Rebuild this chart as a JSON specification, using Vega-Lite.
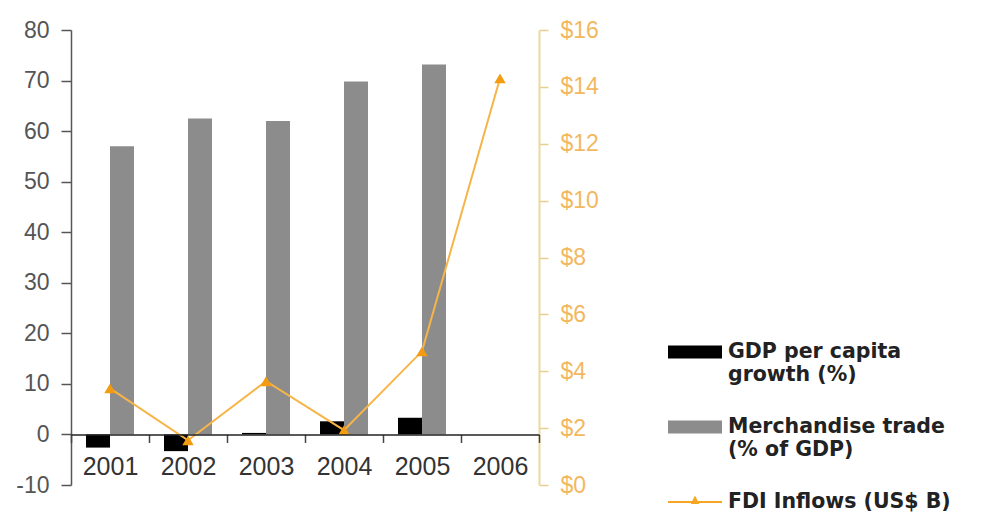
{
  "$schema": "https://vega.github.io/schema/vega-lite/v6.json",
  "width": 468,
  "height": 455,
  "autosize": {"type": "none"},
  "padding": {"left": 71, "top": 30, "right": 450, "bottom": 30},
  "background": "white",
  "view": {"stroke": null},
  "data": {
    "values": [
      {"year": "2001", "series": "GDP per capita growth (%)", "value": -2.6},
      {"year": "2002", "series": "GDP per capita growth (%)", "value": -3.3},
      {"year": "2003", "series": "GDP per capita growth (%)", "value": 0.3},
      {"year": "2004", "series": "GDP per capita growth (%)", "value": 2.6},
      {"year": "2005", "series": "GDP per capita growth (%)", "value": 3.3},
      {"year": "2001", "series": "Merchandise trade (% of GDP)", "value": 57},
      {"year": "2002", "series": "Merchandise trade (% of GDP)", "value": 62.5},
      {"year": "2003", "series": "Merchandise trade (% of GDP)", "value": 62},
      {"year": "2004", "series": "Merchandise trade (% of GDP)", "value": 69.8},
      {"year": "2005", "series": "Merchandise trade (% of GDP)", "value": 73.2},
      {"year": "2001", "series": "FDI Inflows (US$ B)", "value": 3.4},
      {"year": "2002", "series": "FDI Inflows (US$ B)", "value": 1.57},
      {"year": "2003", "series": "FDI Inflows (US$ B)", "value": 3.65},
      {"year": "2004", "series": "FDI Inflows (US$ B)", "value": 1.93},
      {"year": "2005", "series": "FDI Inflows (US$ B)", "value": 4.7},
      {"year": "2006", "series": "FDI Inflows (US$ B)", "value": 14.3}
    ]
  },
  "encoding": {
    "x": {
      "field": "year",
      "type": "ordinal",
      "scale": {"paddingInner": 0, "paddingOuter": 0},
      "axis": {
        "title": null,
        "orient": "bottom",
        "offset": -50.56,
        "domainColor": "#222",
        "domainWidth": 1.5,
        "tickColor": "#444",
        "tickWidth": 1.5,
        "tickSize": 8,
        "tickBand": "extent",
        "labelAngle": 0,
        "labelFont": "Liberation Sans",
        "labelFontSize": 25,
        "labelColor": "#333",
        "labelPadding": 12,
        "zindex": 1
      }
    }
  },
  "layer": [
    {
      "transform": [{"filter": "datum.series !== 'FDI Inflows (US$ B)'"}],
      "mark": {"type": "bar"},
      "encoding": {
        "xOffset": {
          "field": "series",
          "type": "nominal",
          "scale": {
            "domain": ["GDP per capita growth (%)", "Merchandise trade (% of GDP)"],
            "paddingInner": 0,
            "paddingOuter": 0.625
          }
        },
        "y": {
          "field": "value",
          "type": "quantitative",
          "scale": {"domain": [-10, 80], "nice": false, "zero": false},
          "axis": {
            "title": null,
            "orient": "left",
            "values": [-10, 0, 10, 20, 30, 40, 50, 60, 70, 80],
            "labelExpr": "datum.value < 0 ? '-' + abs(datum.value) : '' + datum.value",
            "grid": false,
            "domainColor": "#555",
            "domainWidth": 1.5,
            "tickColor": "#555",
            "tickWidth": 1.5,
            "tickSize": 10,
            "labelFont": "Liberation Sans",
            "labelFontSize": 23,
            "labelColor": "#555",
            "labelPadding": 12
          }
        },
        "color": {
          "field": "series",
          "type": "nominal",
          "scale": {
            "domain": ["GDP per capita growth (%)", "Merchandise trade (% of GDP)", "FDI Inflows (US$ B)"],
            "range": ["#000000", "#8c8c8c", "#f5a623"]
          },
          "legend": {
            "title": null,
            "orient": "none",
            "legendX": 597,
            "legendY": 295,
            "padding": 0,
            "symbolSize": 2916,
            "symbolStrokeWidth": 0,
            "labelOffset": 6,
            "labelFont": "DejaVu Sans",
            "labelFontWeight": "bold",
            "labelFontSize": 20.5,
            "labelColor": "#222",
            "labelLimit": 400,
            "labelBaseline": "middle",
            "rowPadding": 14,
            "labelExpr": "datum.label === 'GDP per capita growth (%)' ? ['GDP per capita', 'growth (%)'] : datum.label === 'Merchandise trade (% of GDP)' ? ['Merchandise trade', '(% of GDP)'] : datum.label",
            "encode": {
              "symbols": {
                "update": {
                  "shape": {"signal": "datum.value === 'FDI Inflows (US$ B)' ? 'M-1,-0.035H1V0.035H-1Z M0,-0.24L0.16,0.07H-0.16Z' : 'M-1,-0.24H1V0.24H-1Z'"}
                }
              },
              "labels": {
                "update": {
                  "lineHeight": {"value": 23}
                }
              }
            }
          }
        }
      }
    },
    {
      "transform": [{"filter": "datum.series === 'FDI Inflows (US$ B)'"}],
      "mark": {
        "type": "line",
        "color": "#f7b547",
        "strokeWidth": 2,
        "point": {"filled": true, "shape": "triangle-up", "size": 130, "color": "#f39c12"}
      },
      "encoding": {
        "y": {
          "field": "value",
          "type": "quantitative",
          "scale": {"domain": [0, 16], "nice": false},
          "axis": {
            "title": null,
            "orient": "right",
            "values": [0, 2, 4, 6, 8, 10, 12, 14, 16],
            "grid": false,
            "labelExpr": "'$' + datum.value",
            "domainColor": "#ecd9a0",
            "domainWidth": 2,
            "tickColor": "#e6cf8f",
            "tickWidth": 1.5,
            "tickSize": 9,
            "labelFont": "Liberation Sans",
            "labelFontSize": 23,
            "labelColor": "#f2b860",
            "labelPadding": 12
          }
        }
      }
    }
  ],
  "resolve": {"scale": {"y": "independent"}, "axis": {"y": "independent"}}
}
